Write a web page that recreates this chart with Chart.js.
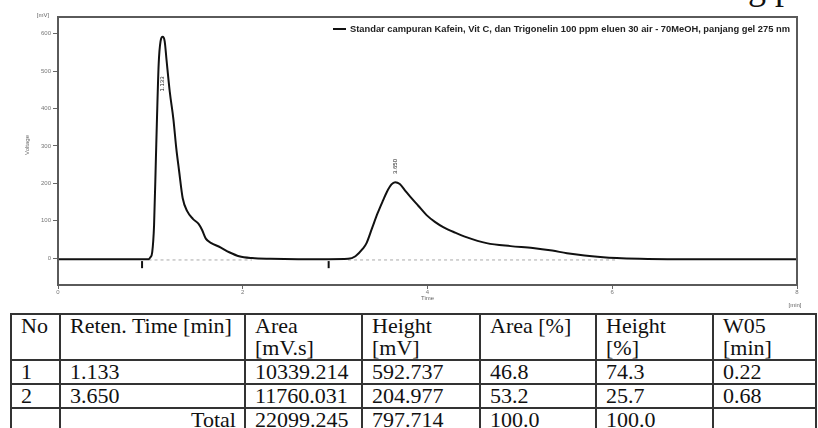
<!DOCTYPE html>
<html>
<head>
<meta charset="utf-8">
<script src="https://cdn.jsdelivr.net/npm/chart.js@4.4.1/dist/chart.umd.min.js"></script>
<style>
  html, body { margin: 0; padding: 0; background: #fff; width: 818px; height: 428px; overflow: hidden; position: relative; }
  #grafico { position: absolute; left: 0; top: 0; }
  #corte { position: absolute; left: 748px; top: -31px; font-family: "Liberation Serif", serif; font-size: 36px; line-height: 36px; color: #111; white-space: pre; }
  table { position: absolute; left: 10px; top: 313px; border-collapse: collapse; font-family: "Liberation Serif", serif; font-size: 22px; color: #111; }
  td { border: 2px solid #333; padding: 0 0 0 9px; vertical-align: top; line-height: 22px; height: 22px; }
  td.dir { text-align: right; padding: 0 8px 0 0; }
</style>
</head>
<body>
<div id="corte">g p</div>
<canvas id="grafico" width="818" height="312"></canvas>
<table>
  <tr><td style="width:38px">No</td><td style="width:174px">Reten. Time [min]</td><td style="width:106px">Area<br>[mV.s]</td><td style="width:107px">Height<br>[mV]</td><td style="width:105px">Area [%]</td><td style="width:106px">Height<br>[%]</td><td style="width:92px">W05<br>[min]</td></tr>
  <tr><td>1</td><td>1.133</td><td>10339.214</td><td>592.737</td><td>46.8</td><td>74.3</td><td>0.22</td></tr>
  <tr><td>2</td><td>3.650</td><td>11760.031</td><td>204.977</td><td>53.2</td><td>25.7</td><td>0.68</td></tr>
  <tr><td></td><td class="dir">Total</td><td>22099.245</td><td>797.714</td><td>100.0</td><td>100.0</td><td></td></tr>
</table>
<script>
// ------------------------------------------------------------
// Cromatograma — Kafein, Vit C e Trigonelin
// ------------------------------------------------------------

// tempo de retenção (min) e sinal (mV)
const tempos = [0, 0.5, 0.91, 0.98, 1.0, 1.02, 1.04, 1.06, 1.07, 1.09, 1.11, 1.133,
  1.155, 1.175, 1.21, 1.25, 1.28, 1.31, 1.35, 1.40, 1.46, 1.52, 1.56, 1.60, 1.66,
  1.74, 1.86, 1.96, 2.1, 2.3, 2.6, 2.93, 3.14, 3.22, 3.30, 3.34, 3.40, 3.46, 3.52,
  3.56, 3.61, 3.65, 3.70, 3.76, 3.81, 3.90, 3.99, 4.08, 4.17, 4.30, 4.42, 4.64,
  4.90, 5.14, 5.35, 5.51, 5.70, 5.87, 6.05, 6.30, 6.60, 7.0, 7.5, 8.0];
const sinal = [-3, -3, -3, -3, 2, 16, 88, 268, 360, 520, 580, 592,
  580, 530, 445, 370, 295, 235, 160, 125, 105, 92, 75, 52, 40,
  31, 15, 5, 0, -2, -3, -3, -2, 5, 25, 40, 80, 120, 155,
  177, 197, 203, 198, 180, 165, 140, 115, 97, 83, 68, 56, 40,
  32, 27, 20, 13, 7, 3, 0, -2, -3, -3, -3, -3];

// picos identificados
const picosTempo = [1.133, 3.650];
const picosAltura = [592.737, 204.977];
const picosRotulo = ['1.133', '3.650'];

// linha de base da integração (início / fim de cada pico)
const baseInicio = [0.98, 3.14];
const baseFim = [2.10, 6.05];
const baseNivel = -5;

// marcas de evento abaixo da linha de base
const marcasTempo = [0.91, 2.93];

// eixos
const ticksX = [0, 2, 4, 6, 8];
const ticksY = [0, 100, 200, 300, 400, 500, 600];

const legenda = 'Standar campuran Kafein, Vit C, dan Trigonelin 100 ppm eluen 30 air - 70MeOH, panjang gel 275 nm';

// pontos da linha de base: um segmento por pico, separados por null
const pontosBase = [];
baseInicio.forEach((ini, i) => {
  pontosBase.push({ x: ini, y: baseNivel }, { x: baseFim[i], y: baseNivel }, { x: baseFim[i], y: null });
});

// desenha moldura, textos dos eixos, legenda e rótulos dos picos
const extras = {
  id: 'extras',
  afterDraw(chart) {
    const { ctx, chartArea: a, scales: { x, y } } = chart;
    ctx.save();

    // moldura cinza em volta da área
    ctx.strokeStyle = '#5a5a5a';
    ctx.lineWidth = 2;
    ctx.strokeRect(a.left, a.top, a.right - a.left, a.bottom - a.top);

    // marcas de evento
    ctx.strokeStyle = '#111';
    ctx.lineWidth = 2;
    marcasTempo.forEach(t => {
      const px = x.getPixelForValue(t);
      ctx.beginPath();
      ctx.moveTo(px, y.getPixelForValue(-8));
      ctx.lineTo(px, y.getPixelForValue(-27));
      ctx.stroke();
    });

    // rótulos verticais dos picos
    ctx.fillStyle = '#222';
    ctx.font = '6px "Liberation Sans"';
    ctx.textAlign = 'center';
    ctx.textBaseline = 'middle';
    picosTempo.forEach((t, i) => {
      // o primeiro rótulo fica dentro do pico, o segundo acima dele
      const v = i === 0 ? picosAltura[i] - 127 : picosAltura[i] + 40;
      ctx.save();
      ctx.translate(x.getPixelForValue(t), y.getPixelForValue(v));
      ctx.rotate(-Math.PI / 2);
      ctx.fillText(picosRotulo[i], 0, 0);
      ctx.restore();
    });

    // títulos dos eixos
    ctx.fillStyle = '#666';
    ctx.font = '6px "Liberation Sans"';
    ctx.fillText('[mV]', 43, 15);
    ctx.fillText('Time', x.getPixelForValue(4), 298);
    ctx.fillText('[min]', 795, 305);
    ctx.save();
    ctx.translate(27, 145);
    ctx.rotate(-Math.PI / 2);
    ctx.fillText('Voltage', 0, 0);
    ctx.restore();

    // legenda ajustada para caber entre x=350 e x=790
    ctx.strokeStyle = '#111';
    ctx.lineWidth = 2;
    ctx.beginPath();
    ctx.moveTo(333, 29);
    ctx.lineTo(346, 29);
    ctx.stroke();
    ctx.font = 'bold 8px "Liberation Sans"';
    const escala = 440 / ctx.measureText(legenda).width;
    ctx.font = `bold ${(8 * escala).toFixed(2)}px "Liberation Sans"`;
    ctx.fillStyle = '#222';
    ctx.textAlign = 'left';
    ctx.fillText(legenda, 350, 29);

    ctx.restore();
  }
};

new Chart(document.getElementById('grafico'), {
  type: 'line',
  data: {
    datasets: [
      {
        data: tempos.map((t, i) => ({ x: t, y: sinal[i] })),
        borderColor: '#111',
        borderWidth: 2,
        pointRadius: 0,
        cubicInterpolationMode: 'monotone',
      },
      {
        data: pontosBase,
        borderColor: '#aaa',
        borderWidth: 1,
        borderDash: [3, 3],
        pointRadius: 0,
        spanGaps: false,
      }
    ]
  },
  options: {
    responsive: false,
    animation: false,
    layout: { padding: { top: 17, right: 21, left: 0, bottom: 0 } },
    plugins: {
      legend: { display: false },
      tooltip: { enabled: false }
    },
    scales: {
      x: {
        type: 'linear',
        min: 0,
        max: 8,
        afterFit: s => { s.height = 27; },
        afterBuildTicks: s => { s.ticks = ticksX.map(v => ({ value: v })); },
        grid: { drawOnChartArea: false, tickLength: 4, color: '#666', lineWidth: 1 },
        border: { display: false },
        ticks: { padding: 0, color: '#777', font: { size: 6, family: '"Liberation Sans"' } }
      },
      y: {
        min: -72,
        max: 645,
        afterFit: s => { s.width = 58; },
        afterBuildTicks: s => { s.ticks = ticksY.map(v => ({ value: v })); },
        grid: { drawOnChartArea: false, tickLength: 5, color: '#666', lineWidth: 1 },
        border: { display: false },
        ticks: { padding: 2, color: '#777', font: { size: 6, family: '"Liberation Sans"' } }
      }
    }
  },
  plugins: [extras]
});
</script>
</body>
</html>
